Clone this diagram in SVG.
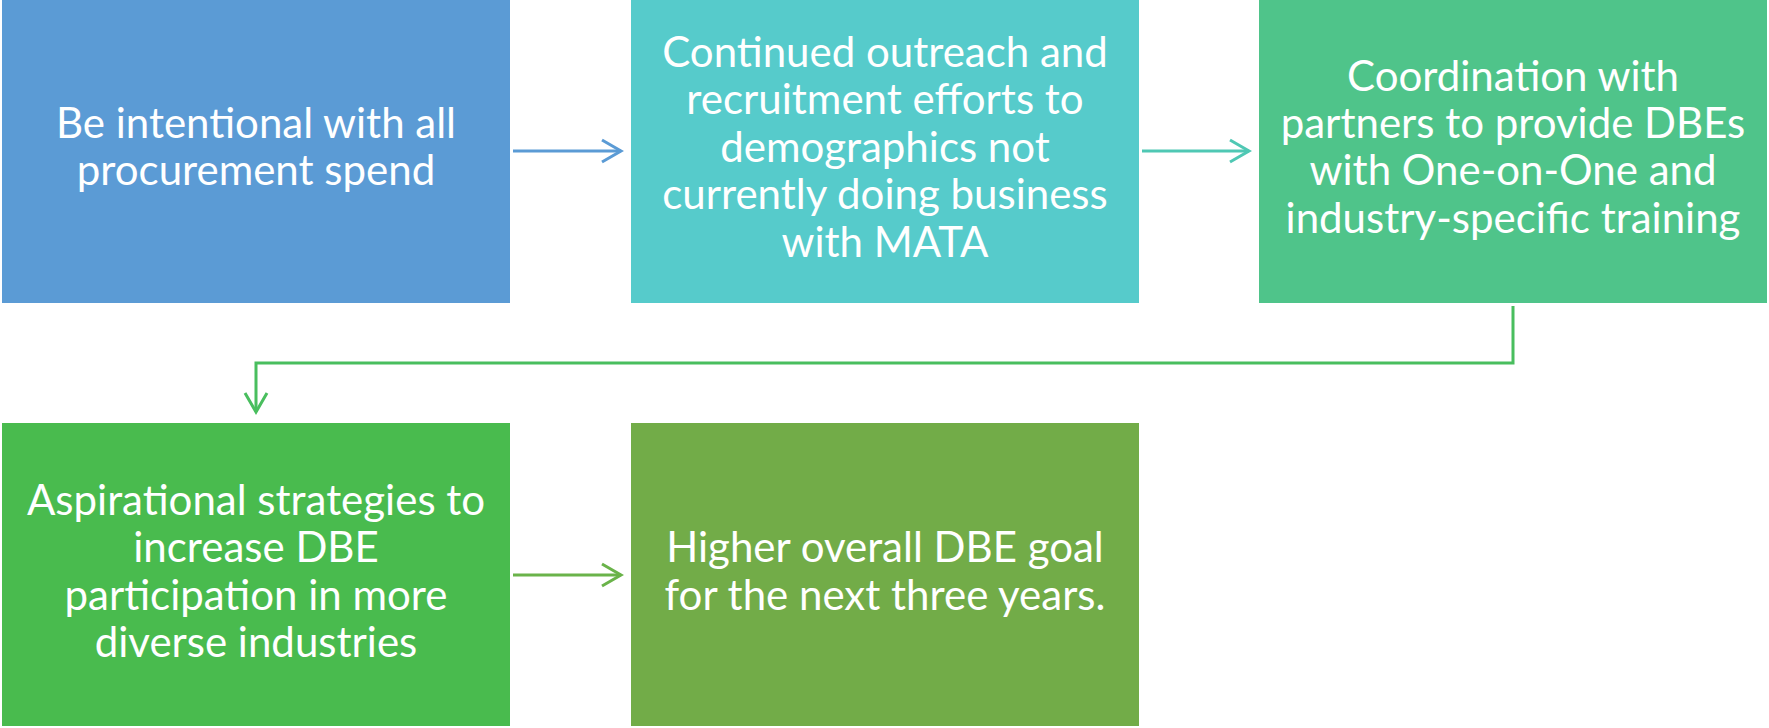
<svg xmlns="http://www.w3.org/2000/svg" width="1769" height="728" viewBox="0 0 1769 728">
<style>
.t{font-family:Lato,"Open Sans","Liberation Sans",sans-serif;font-size:42px;fill:#fff;text-anchor:middle}
.c{fill:none;stroke-width:3}
</style>
<defs>
<marker id="m1" viewBox="0 0 12 12" refX="11" refY="6" markerWidth="12" markerHeight="12" markerUnits="userSpaceOnUse" orient="auto" overflow="visible"><path d="M-8,-5 L11,6 L-8,17" fill="none" stroke="#5B9BD5" stroke-width="3"/></marker>
<marker id="m2" viewBox="0 0 12 12" refX="11" refY="6" markerWidth="12" markerHeight="12" markerUnits="userSpaceOnUse" orient="auto" overflow="visible"><path d="M-8,-5 L11,6 L-8,17" fill="none" stroke="#4FC8B4" stroke-width="3"/></marker>
<marker id="m3" viewBox="0 0 12 12" refX="11" refY="6" markerWidth="12" markerHeight="12" markerUnits="userSpaceOnUse" orient="auto" overflow="visible"><path d="M-8,-5 L11,6 L-8,17" fill="none" stroke="#49BE5E" stroke-width="3"/></marker>
<marker id="m4" viewBox="0 0 12 12" refX="11" refY="6" markerWidth="12" markerHeight="12" markerUnits="userSpaceOnUse" orient="auto" overflow="visible"><path d="M-8,-5 L11,6 L-8,17" fill="none" stroke="#6AB34A" stroke-width="3"/></marker>
</defs>
<g id="connectors">
<path class="c" d="M513,151 H621" stroke="#5B9BD5" marker-end="url(#m1)"/>
<path class="c" d="M1142,151 H1249" stroke="#4FC8B4" marker-end="url(#m2)"/>
<path class="c" d="M1513,306 V363 H256 V412" stroke="#49BE5E" marker-end="url(#m3)"/>
<path class="c" d="M513,575 H621" stroke="#6AB34A" marker-end="url(#m4)"/>
</g>
<g id="n1"><rect x="2" y="0" width="508" height="303" fill="#5B9BD5"/>
<text class="t" x="256"><tspan x="256" y="138">Be intentional with all</tspan><tspan x="256" y="185">procurement spend</tspan></text></g>
<g id="n2"><rect x="631" y="0" width="508" height="303" fill="#56CBCB"/>
<text class="t"><tspan x="885" y="67">Continued outreach and</tspan><tspan x="885" y="114">recruitment efforts to</tspan><tspan x="885" y="162">demographics not</tspan><tspan x="885" y="209">currently doing business</tspan><tspan x="885" y="257">with MATA</tspan></text></g>
<g id="n3"><rect x="1259" y="0" width="508" height="303" fill="#4FC48A"/>
<text class="t"><tspan x="1513" y="91">Coordination with</tspan><tspan x="1513" y="138">partners to provide DBEs</tspan><tspan x="1513" y="185">with One-on-One and</tspan><tspan x="1513" y="233">industry-specific training</tspan></text></g>
<g id="n4"><rect x="2" y="423" width="508" height="303" fill="#49BB4E"/>
<text class="t"><tspan x="256" y="515">Aspirational strategies to</tspan><tspan x="256" y="562">increase DBE</tspan><tspan x="256" y="610">participation in more</tspan><tspan x="256" y="657">diverse industries</tspan></text></g>
<g id="n5"><rect x="631" y="423" width="508" height="303" fill="#72AC48"/>
<text class="t"><tspan x="885" y="562">Higher overall DBE goal</tspan><tspan x="885" y="610">for the next three years.</tspan></text></g>
</svg>
